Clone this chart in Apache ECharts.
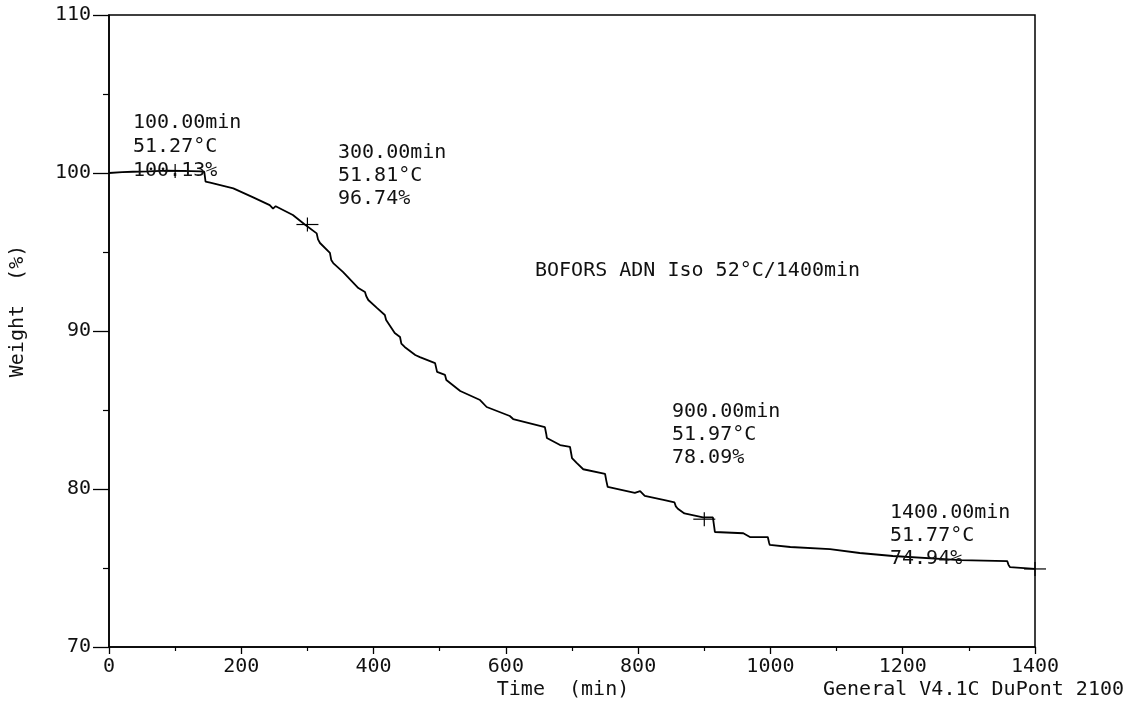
<!DOCTYPE html>
<html>
<head>
<meta charset="utf-8">
<script src="https://cdn.jsdelivr.net/npm/echarts@6/dist/echarts.min.js"></script>
<style>html,body{margin:0;padding:0;background:#fff;}#c{width:1142px;height:703px;}</style>
</head>
<body>
<div id="c"></div>
<script>
// ---- data ----
const times   = [0, 20, 36, 60, 88, 110, 138, 144, 146, 153, 188, 218, 243, 248, 252, 278, 296, 314, 316, 319, 334, 336, 339, 354, 377, 387, 389, 392, 405, 417, 419, 422, 432, 440, 442, 447, 463, 470, 493, 495, 496, 508, 510, 531, 561, 571, 606, 611, 659, 661, 662, 682, 697, 699, 700, 707, 717, 750, 752, 754, 795, 803, 810, 840, 855, 857, 860, 870, 898, 913, 915, 916, 959, 969, 996, 998, 999, 1030, 1090, 1135, 1185, 1287, 1358, 1360, 1362, 1400];
const weights = [100.0, 100.05, 100.08, 100.1, 100.15, 100.13, 100.1, 100.08, 99.45, 99.39, 99.03, 98.46, 97.97, 97.75, 97.9, 97.34, 96.74, 96.18, 95.8, 95.57, 94.94, 94.5, 94.3, 93.73, 92.72, 92.47, 92.2, 91.96, 91.46, 91.01, 90.7, 90.51, 89.87, 89.62, 89.2, 88.99, 88.48, 88.35, 87.97, 87.6, 87.41, 87.22, 86.9, 86.2, 85.63, 85.19, 84.62, 84.43, 83.92, 83.5, 83.23, 82.78, 82.66, 82.2, 81.96, 81.65, 81.25, 80.95, 80.5, 80.13, 79.75, 79.87, 79.56, 79.3, 79.15, 78.9, 78.75, 78.45, 78.2, 78.2, 77.6, 77.28, 77.2, 76.96, 76.96, 76.6, 76.46, 76.33, 76.2, 75.95, 75.76, 75.5, 75.44, 75.2, 75.06, 74.94];

const markerTimes   = [100, 300, 900, 1400];
const markerWeights = [100.13, 96.74, 78.09, 74.94];
const markerTemps   = ['51.27', '51.81', '51.97', '51.77'];
const markerPctText = ['100.13%', '96.74%', '78.09%', '74.94%'];

const xTickLabels = ['0', '200', '400', '600', '800', '1000', '1200', '1400'];
const yTickLabels = ['70', '80', '90', '100', '110'];

const titleText  = 'BOFORS ADN Iso 52°C/1400min';
const xAxisTitle = 'Time  (min)';
const yAxisTitle = 'Weight  (%)';
const footerText = 'General V4.1C DuPont 2100';

// ---- chart ----
const FONT = '"DejaVu Sans Mono", "Liberation Mono", monospace';
const FS = 20;
const chart = echarts.init(document.getElementById('c'), null, {renderer: 'canvas'});

const lineData = times.map((t, i) => [t, weights[i]]);
const markerData = markerTimes.map((t, i) => [t, markerWeights[i]]);

// annotation positions (layout only)
const annoPos = [[133, 111, 24], [338, 141, 23], [672, 400, 23], [890, 501, 23]];
const annotations = markerTimes.map((t, i) => ({
  type: 'text',
  x: annoPos[i][0], y: annoPos[i][1],
  z: 10,
  style: {
    text: t.toFixed(2) + 'min\n' + markerTemps[i] + '°C\n' + markerPctText[i],
    font: FS + 'px ' + FONT,
    fill: '#111',
    lineHeight: annoPos[i][2],
    textAlign: 'left',
    textVerticalAlign: 'top'
  }
}));

const option = {
  animation: false,
  backgroundColor: '#fff',
  grid: {left: 109, right: 107, top: 15, bottom: 56, show: true, borderColor: '#000', borderWidth: 1.5, backgroundColor: 'transparent'},
  xAxis: {
    type: 'value', min: 0, max: 1400, interval: 200,
    axisLine: {show: true, lineStyle: {color: '#000', width: 1.5}},
    axisTick: {show: true, length: 7, lineStyle: {color: '#000', width: 1.3}},
    minorTick: {show: true, splitNumber: 2, length: 4, lineStyle: {color: '#000', width: 1.2}},
    splitLine: {show: false},
    axisLabel: {
      margin: 10, color: '#111', fontFamily: FONT, fontSize: FS,
      formatter: (v) => xTickLabels[Math.round(v / 200)] ?? ''
    }
  },
  yAxis: {
    type: 'value', min: 70, max: 110, interval: 10,
    axisLine: {show: true, lineStyle: {color: '#000', width: 1.5}},
    axisTick: {show: true, length: 16, lineStyle: {color: '#000', width: 1.3}},
    minorTick: {show: true, splitNumber: 2, length: 6, lineStyle: {color: '#000', width: 1.2}},
    splitLine: {show: false},
    axisLabel: {
      margin: 18, color: '#111', fontFamily: FONT, fontSize: FS,
      formatter: (v) => yTickLabels[Math.round((v - 70) / 10)] ?? ''
    }
  },
  series: [
    {
      type: 'line', data: lineData, showSymbol: false, smooth: false,
      lineStyle: {color: '#000', width: 1.8}, z: 3
    },
    {
      type: 'custom', data: markerData, z: 4, clip: false,
      renderItem: function (params, api) {
        const p = api.coord([api.value(0), api.value(1)]);
        const st = {stroke: '#000', lineWidth: 1.2};
        return {type: 'group', children: [
          {type: 'line', shape: {x1: p[0] - 11, y1: p[1], x2: p[0] + 11, y2: p[1]}, style: st},
          {type: 'line', shape: {x1: p[0], y1: p[1] - 7, x2: p[0], y2: p[1] + 7}, style: st}
        ]};
      }
    }
  ],
  graphic: annotations.concat([
    {type: 'text', x: 535, y: 271, style: {text: titleText, font: FS + 'px ' + FONT, fill: '#111', textAlign: 'left', textVerticalAlign: 'middle'}},
    {type: 'text', x: 563, y: 690, style: {text: xAxisTitle, font: FS + 'px ' + FONT, fill: '#111', textAlign: 'center', textVerticalAlign: 'middle'}},
    {type: 'text', x: 823, y: 690, style: {text: footerText, font: FS + 'px ' + FONT, fill: '#111', textAlign: 'left', textVerticalAlign: 'middle'}},
    {type: 'text', x: 18, y: 311, rotation: Math.PI / 2, style: {text: yAxisTitle, font: FS + 'px ' + FONT, fill: '#111', textAlign: 'center', textVerticalAlign: 'middle'}}
  ])
};
chart.setOption(option);
</script>
</body>
</html>
